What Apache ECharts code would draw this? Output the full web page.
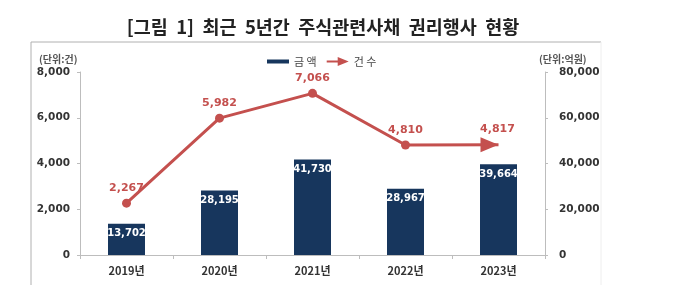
<!DOCTYPE html>
<html>
<head>
<meta charset="utf-8">
<script src="https://cdn.jsdelivr.net/npm/echarts@6/dist/echarts.min.js"></script>
<style>
  html, body { margin: 0; padding: 0; background: #fff; }
  #chart { width: 696px; height: 285px; }
</style>
</head>
<body>
<div id="chart"></div>
<script>
// 연도, 금액(억원), 건수(건)
const years = ['2019년', '2020년', '2021년', '2022년', '2023년'];
const amounts = [13702, 28195, 41730, 28967, 39664];
const counts = [2267, 5982, 7066, 4810, 4817];

const numFont = '"DejaVu Sans", "Noto Sans CJK KR", sans-serif';
const krFont = '"Noto Sans CJK KR", "DejaVu Sans", sans-serif';
const red = '#c4504e';
const navy = '#17365d';

const chart = echarts.init(document.getElementById('chart'));

// 마지막 점은 화살표 (라벨은 카테고리 중앙에 유지)
const countData = counts.map((v, i) => {
  if (i === counts.length - 1) {
    return {
      value: v,
      symbol: 'triangle',
      symbolRotate: -90,
      symbolSize: [15, 18],
      symbolOffset: [-9, 0],
      label: { offset: [8, 2] }
    };
  }
  return v;
});

const fmt = v => v.toLocaleString('en-US');

chart.setOption({
  animation: false,
  title: {
    text: '[그림  1]  최근  5년간  주식관련사채  권리행사  현황',
    left: 318,
    top: 13,
    textAlign: 'center',
    textStyle: { fontFamily: krFont, fontSize: 18.5, fontWeight: 'bold', color: '#222' }
  },
  legend: {
    left: 262,
    top: 51,
    itemWidth: 22,
    itemHeight: 10,
    itemGap: 10,
    textStyle: { fontFamily: krFont, fontSize: 11, color: '#444' },
    data: [
      { name: '금 액', icon: 'path://M0,0h22v4h-22z', itemStyle: { color: navy, borderWidth: 0 } },
      { name: '건 수', icon: 'path://M0,4L12,4L12,0L24,5L12,10L12,6L0,6Z', itemStyle: { color: red, borderWidth: 0 } }
    ]
  },
  grid: { left: 80, right: 151, top: 72, bottom: 30 },
  xAxis: {
    type: 'category',
    data: years,
    axisLine: { lineStyle: { color: '#bdbdbd' } },
    axisTick: { show: true, length: 4, lineStyle: { color: '#bdbdbd' } },
    axisLabel: { margin: 10, fontFamily: krFont, fontSize: 11, fontWeight: 'bold', color: '#333' }
  },
  yAxis: [
    {
      type: 'value',
      min: 0, max: 8000, interval: 2000,
      splitLine: { show: false },
      axisLine: { show: true, lineStyle: { color: '#bdbdbd' } },
      axisTick: { show: true, length: 3, lineStyle: { color: '#bdbdbd' } },
      axisLabel: { margin: 10, fontFamily: numFont, fontSize: 10.5, fontWeight: 'bold', color: '#333', formatter: fmt }
    },
    {
      type: 'value',
      min: 0, max: 80000, interval: 20000,
      splitLine: { show: false },
      axisLine: { show: true, lineStyle: { color: '#bdbdbd' } },
      axisTick: { show: true, length: 3, lineStyle: { color: '#bdbdbd' } },
      axisLabel: { margin: 14, fontFamily: numFont, fontSize: 10.5, fontWeight: 'bold', color: '#333', formatter: fmt }
    }
  ],
  series: [
    {
      name: '금 액',
      type: 'bar',
      yAxisIndex: 1,
      data: amounts,
      barWidth: 37,
      itemStyle: { color: navy },
      label: {
        show: true,
        position: 'insideTop',
        distance: 5,
        fontFamily: numFont,
        fontSize: 10,
        fontWeight: 'bold',
        color: '#fff',
        formatter: p => fmt(p.value)
      }
    },
    {
      name: '건 수',
      type: 'line',
      yAxisIndex: 0,
      data: countData,
      symbol: 'circle',
      symbolSize: 9,
      lineStyle: { color: red, width: 3 },
      itemStyle: { color: red },
      label: {
        show: true,
        position: 'top',
        distance: 5,
        fontFamily: numFont,
        fontSize: 11,
        fontWeight: 'bold',
        color: red,
        formatter: p => fmt(p.value)
      },
      z: 3
    }
  ],
  graphic: [
    { type: 'line', shape: { x1: 31, y1: 42, x2: 601, y2: 42 }, style: { stroke: '#b0b0b0', lineWidth: 1 } },
    { type: 'line', shape: { x1: 31, y1: 42, x2: 31, y2: 285 }, style: { stroke: '#b0b0b0', lineWidth: 1 } },
    { type: 'line', shape: { x1: 601, y1: 42, x2: 601, y2: 285 }, style: { stroke: '#eeeeee', lineWidth: 1 } },
    {
      type: 'text', left: 39, top: 54,
      style: { text: '(단위:건)', font: 'bold 10px ' + krFont, fill: '#555' }
    },
    {
      type: 'text', left: 539, top: 54,
      style: { text: '(단위:억원)', font: 'bold 10px ' + krFont, fill: '#555' }
    }
  ]
});
</script>
</body>
</html>
